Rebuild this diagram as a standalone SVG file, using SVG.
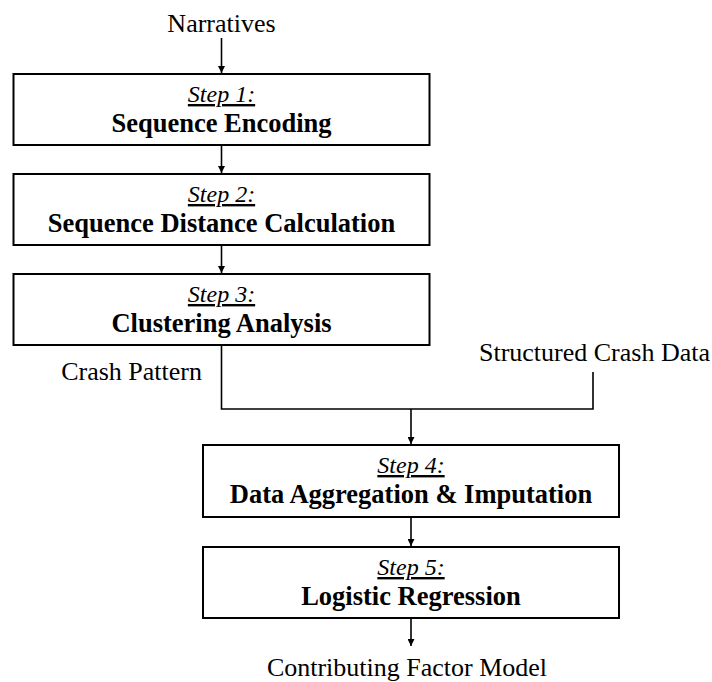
<svg xmlns="http://www.w3.org/2000/svg" width="712" height="682" viewBox="0 0 712 682">
<style>
.box{fill:#fff;stroke:#000;stroke-width:2}
.step{font-family:"Liberation Serif","Times New Roman",serif;font-style:italic;font-size:24px;text-decoration:underline;text-anchor:middle;fill:#000}
.title{font-family:"Liberation Serif","Times New Roman",serif;font-weight:bold;font-size:26.5px;text-anchor:middle;fill:#000}
.lbl{font-family:"Liberation Serif","Times New Roman",serif;font-size:26px;fill:#000}
.conn{fill:none;stroke:#000;stroke-width:1.6}
</style>
<defs>
<marker id="arr" viewBox="0 0 10 10" refX="10" refY="5" markerWidth="7" markerHeight="7" markerUnits="userSpaceOnUse" orient="auto">
<path d="M0,0 L10,5 L0,10 z" fill="#000"/>
</marker>
</defs>
<g id="connectors">
<line class="conn" x1="221.5" y1="38" x2="221.5" y2="73" marker-end="url(#arr)"/>
<line class="conn" x1="221.5" y1="145" x2="221.5" y2="173" marker-end="url(#arr)"/>
<line class="conn" x1="221.5" y1="245" x2="221.5" y2="273" marker-end="url(#arr)"/>
<polyline class="conn" points="221.5,345 221.5,409 593,409 593,372"/>
<line class="conn" x1="411" y1="409" x2="411" y2="444" marker-end="url(#arr)"/>
<line class="conn" x1="411" y1="517" x2="411" y2="546" marker-end="url(#arr)"/>
<line class="conn" x1="411" y1="618" x2="411" y2="646" marker-end="url(#arr)"/>
</g>
<g id="narratives"><text class="lbl" x="221.5" y="32" text-anchor="middle">Narratives</text></g>
<g id="step1">
<rect class="box" x="13.5" y="74" width="416" height="71"/>
<text class="step" x="221.5" y="102">Step 1:</text>
<text class="title" x="221.5" y="132">Sequence Encoding</text>
</g>
<g id="step2">
<rect class="box" x="13.5" y="174" width="416" height="71"/>
<text class="step" x="221.5" y="202">Step 2:</text>
<text class="title" x="221.5" y="232">Sequence Distance Calculation</text>
</g>
<g id="step3">
<rect class="box" x="13.5" y="274" width="416" height="71"/>
<text class="step" x="221.5" y="302">Step 3:</text>
<text class="title" x="221.5" y="332">Clustering Analysis</text>
</g>
<g id="crash-pattern"><text class="lbl" x="202" y="380" text-anchor="end">Crash Pattern</text></g>
<g id="structured-data"><text class="lbl" x="710" y="361" text-anchor="end">Structured Crash Data</text></g>
<g id="step4">
<rect class="box" x="203" y="445" width="416" height="72"/>
<text class="step" x="411" y="473">Step 4:</text>
<text class="title" x="411" y="503">Data Aggregation &amp; Imputation</text>
</g>
<g id="step5">
<rect class="box" x="203" y="547" width="416" height="71"/>
<text class="step" x="411" y="575">Step 5:</text>
<text class="title" x="411" y="605">Logistic Regression</text>
</g>
<g id="model"><text class="lbl" x="407" y="676" text-anchor="middle">Contributing Factor Model</text></g>
</svg>
